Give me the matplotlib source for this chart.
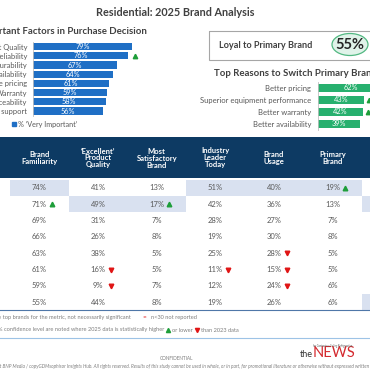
import matplotlib
matplotlib.use("Agg")
import matplotlib.pyplot as plt
from matplotlib.patches import Rectangle, Ellipse

plt.rcParams['font.family'] = ['Lato', 'DejaVu Sans']

# ---------------- data ----------------
factor_labels = ["Product Quality", "Reliability", "Durability", "Availability",
                 "Competitive pricing", "Warranty", "Serviceability", "Technical support"]
factor_values = [79, 76, 67, 64, 61, 59, 58, 56]
factor_up = [False, True, False, False, False, False, False, False]

reason_labels = ["Better pricing", "Superior equipment performance",
                 "Better warranty", "Better availability"]
reason_values = [62, 43, 42, 39]
reason_up = [False, True, True, False]

loyal_value = 55

col_headers = ["Brand\nFamiliarity", "\u2018Excellent\u2019\nProduct\nQuality",
               "Most\nSatisfactory\nBrand", "Industry\nLeader\nToday",
               "Brand\nUsage", "Primary\nBrand", "Switching\n(past 2 yrs)"]
table_values = [
    [74, 41, 13, 51, 40, 19],
    [71, 49, 17, 42, 36, 13],
    [69, 31, 7, 28, 27, 7],
    [66, 26, 8, 19, 30, 8],
    [63, 38, 5, 25, 28, 5],
    [61, 16, 5, 11, 15, 5],
    [59, 9, 7, 12, 24, 6],
    [55, 44, 8, 19, 26, 6],
]
# significance flags: 1 = higher, -1 = lower, 0 = none
table_sig = [
    [0, 0, 0, 0, 0, 1],
    [1, 0, 1, 0, 0, 0],
    [0, 0, 0, 0, 0, 0],
    [0, 0, 0, 0, 0, 0],
    [0, 0, 0, 0, -1, 0],
    [0, -1, 0, -1, -1, 0],
    [0, -1, 0, 0, -1, 0],
    [0, 0, 0, 0, 0, 0],
]
top_cells = [(0, 0), (0, 3), (0, 4), (0, 5), (1, 1), (1, 2), (1, 6), (7, 6)]

# ---------------- style ----------------
W = H = 370
BLUE = "#1f6fc5"
GREEN = "#27b06e"
NAVY = "#0d3a63"
HIL = "#d9e1f0"
GRAY = "#595959"
DARK = "#404040"
UP = "#1e9e3a"
DOWN = "#e01515"

fig = plt.figure(figsize=(3.7, 3.7), dpi=100)
ax = fig.add_axes([0, 0, 1, 1])
ax.set_xlim(0, W)
ax.set_ylim(H, 0)
ax.axis("off")


def px_axes(x0, y0, w, h):
    return fig.add_axes([x0 / W, 1 - (y0 + h) / H, w / W, h / H])


# title
ax.text(175.5, 12, "Residential: 2025 Brand Analysis", ha="center", va="center",
        fontsize=7.8, fontweight="bold", color=DARK)

# ---------------- left bar chart ----------------
ax.text(147, 32, "Most Important Factors in Purchase Decision", ha="right", va="center",
        fontsize=6.9, fontweight="bold", color=DARK)
ax1 = px_axes(33, 42, 125, 73.6)
n = len(factor_values)
ax1.barh(range(n), factor_values, height=0.78, color=BLUE)
ax1.set_xlim(0, 100)
ax1.set_ylim(n - 0.5, -0.5)
ax1.set_yticks(range(n))
ax1.set_yticklabels(factor_labels, fontsize=5.4, color=GRAY)
ax1.tick_params(axis="y", length=0, pad=4)
ax1.set_xticks([])
for s in ["top", "right", "bottom"]:
    ax1.spines[s].set_visible(False)
ax1.spines["left"].set_color("#bfbfbf")
ax1.spines["left"].set_linewidth(0.6)
ax1.patch.set_alpha(0)
for i, v in enumerate(factor_values):
    ax1.text(v / 2, i, f"{v}%", ha="center", va="center", fontsize=5.3, color="white")
    if factor_up[i]:
        ax1.plot(v + 5.5, i, marker="^", color=UP, markersize=3.2, clip_on=False)

# legend
ax.add_patch(Rectangle((12, 121.5), 4, 4.5, color=BLUE))
ax.text(18.5, 124, "% \u2018Very Important\u2019", ha="left", va="center", fontsize=5.2, color=GRAY)

# ---------------- loyalty box ----------------
ax.add_patch(Rectangle((209, 31), 170, 29, fill=False, ec="#a6a6a6", lw=0.8))
ax.text(219, 45.5, "Loyal to Primary Brand", ha="left", va="center",
        fontsize=6.6, fontweight="bold", color=DARK)
ax.add_patch(Ellipse((350, 44.5), 36, 22, fc="#e0f3e9", ec="#52b882", lw=0.9))
ax.text(350, 45, f"{loyal_value}%", ha="center", va="center",
        fontsize=10.5, fontweight="bold", color="#262626")

# ---------------- right bar chart ----------------
ax.text(214, 73, "Top Reasons to Switch Primary Brand", ha="left", va="center",
        fontsize=6.9, fontweight="bold", color=DARK)
ax2 = px_axes(318, 82, 107, 48)
m = len(reason_values)
ax2.barh(range(m), reason_values, height=0.64, color=GREEN)
ax2.set_xlim(0, 100)
ax2.set_ylim(m - 0.5, -0.5)
ax2.set_yticks(range(m))
ax2.set_yticklabels(reason_labels, fontsize=5.5, color=GRAY)
ax2.tick_params(axis="y", length=0, pad=5)
ax2.set_xticks([])
for s in ["top", "right", "bottom"]:
    ax2.spines[s].set_visible(False)
ax2.spines["left"].set_color("#bfbfbf")
ax2.spines["left"].set_linewidth(0.6)
ax2.patch.set_alpha(0)
for i, v in enumerate(reason_values):
    ax2.text(v / 2, i, f"{v}%", ha="center", va="center", fontsize=5.3, color="white")
    if reason_up[i]:
        ax2.plot(v + 4.5, i, marker="^", color=UP, markersize=3.2, clip_on=False)

# ---------------- table ----------------
col_x0 = 10
col_w = 58.67
row_y0 = 188
row_h = 16.3
ax.add_patch(Rectangle((0, 137), W, 41, color=NAVY, lw=0))
for c, hdr in enumerate(col_headers):
    cx = col_x0 + col_w * (c + 0.5)
    ax.text(cx, 158, hdr, ha="center", va="center", fontsize=5.5,
            fontweight="bold", color="white", linespacing=1.0)
for (r, c) in top_cells:
    ax.add_patch(Rectangle((col_x0 + col_w * c, row_y0 + row_h * r - 7.9),
                           col_w, 15.8, color=HIL, lw=0))
for r, row in enumerate(table_values):
    cy = row_y0 + row_h * r
    for c, v in enumerate(row):
        cx = col_x0 + col_w * (c + 0.5)
        ax.text(cx, cy, f"{v}%", ha="center", va="center", fontsize=5.5, color=GRAY)
        if table_sig[r][c] == 1:
            ax.plot(cx + 12.5, cy, marker="^", color=UP, markersize=3.3)
        elif table_sig[r][c] == -1:
            ax.plot(cx + 12.5, cy, marker="v", color=DOWN, markersize=3.3)

# ---------------- footnote box ----------------
ax.plot([0, W], [309.5, 309.5], color="#4f77a8", lw=0.8)
ax.plot([0, W], [337.5, 337.5], color="#9dc3e6", lw=0.8)
ax.text(131, 317.5, "Shaded cells indicate top brands for the metric, not necessarily significant",
        ha="right", va="center", fontsize=4.1, color="#7f7f7f")
ax.text(143, 317.5, "**", ha="left", va="center", fontsize=4.1, color=DOWN)
ax.text(151, 317.5, "n<30 not reported", ha="left", va="center", fontsize=4.1, color="#7f7f7f")
ax.text(164, 330, "Significant differences at the 95% confidence level are noted where 2025 data is statistically higher",
        ha="right", va="center", fontsize=4.1, color="#7f7f7f")
ax.plot(168, 329.8, marker="^", color=UP, markersize=3)
ax.text(172, 330, "or lower", ha="left", va="center", fontsize=4.1, color="#7f7f7f")
ax.plot(197, 329.8, marker="v", color=DOWN, markersize=3)
ax.text(201, 330, "than 2023 data", ha="left", va="center", fontsize=4.1, color="#7f7f7f")

# ---------------- footer ----------------
ax.text(176, 358, "CONFIDENTIAL", ha="center", va="center", fontsize=3.4, color="#7f7f7f")
ax.text(-18, 366, "Copyright BNP Media / copyGDMsophisor Insights Hub. All rights reserved. Results of this study cannot be used in whole, or in part, for promotional literature or otherwise without expressed written consent.",
        ha="left", va="center", fontsize=3.4, color="#7f7f7f", style="italic")
ax.text(312.5, 354.5, "the", ha="right", va="center", fontsize=6.5, color="#333333")
ax.text(312.5, 353, "NEWS", ha="left", va="center", fontsize=10.5, color="#d42a2f",
        fontweight="normal")
ax.text(313, 345.5, "for Contractors Selling Refrigeration", ha="left", va="center",
        fontsize=1.8, color="#555555")

fig.savefig("out.png", dpi=100)
